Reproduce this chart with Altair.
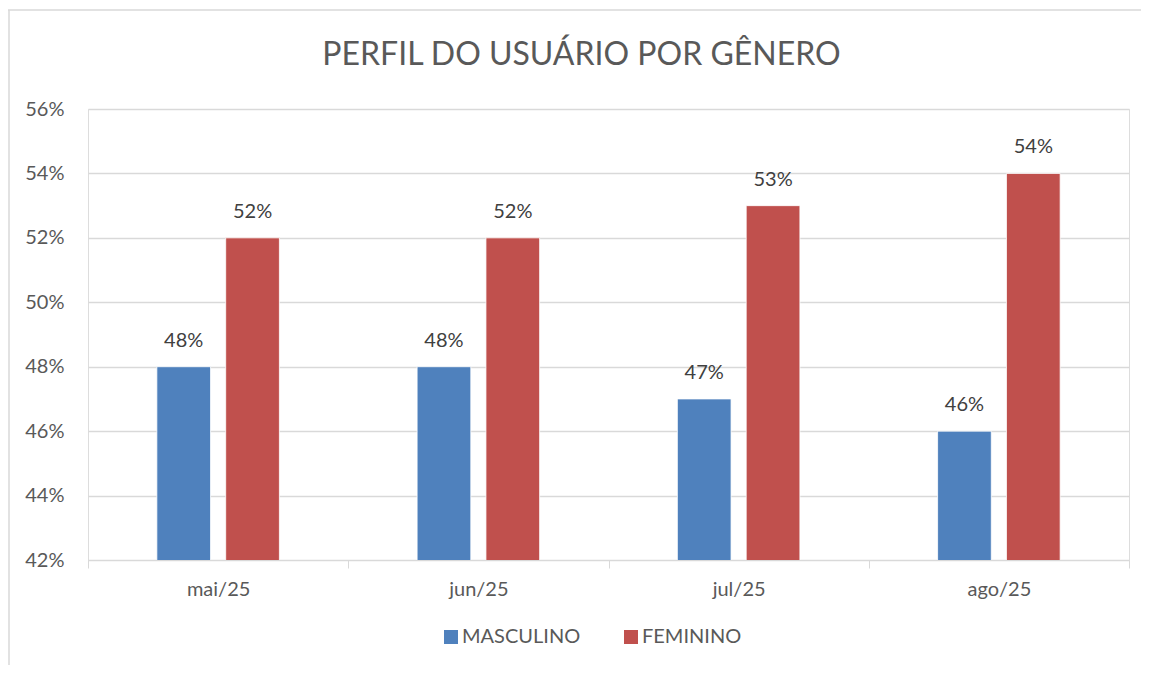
import altair as alt
import pandas as pd

meses = ["mai/25", "jun/25", "jul/25", "ago/25"]
masculino = [0.48, 0.48, 0.47, 0.46]
feminino = [0.52, 0.52, 0.53, 0.54]
series = ["MASCULINO", "FEMININO"]
cores = ["#4F81BD", "#C0504D"]
y_ticks = [0.42, 0.44, 0.46, 0.48, 0.50, 0.52, 0.54, 0.56]

rows = []
for i, m in enumerate(meses):
    rows.append({"mes": m, "genero": series[0], "valor": masculino[i]})
    rows.append({"mes": m, "genero": series[1], "valor": feminino[i]})
df = pd.DataFrame(rows)

FONT = "Lato"

x = alt.X("mes:N", sort=meses, title=None,
          scale=alt.Scale(paddingInner=0, paddingOuter=0),
          axis=alt.Axis(labelAngle=0, tickBand="extent", domainColor="#d9d9d9",
                        tickColor="#d9d9d9", tickSize=8, labelPadding=11,
                        labelFontSize=20, labelColor="#595959", labelFont=FONT, grid=False))
xo = alt.XOffset("genero:N", sort=series,
                 scale=alt.Scale(paddingInner=0.22, paddingOuter=1))
y = alt.Y("valor:Q", title=None,
          scale=alt.Scale(domain=[0.42, 0.56], nice=False, zero=False),
          axis=alt.Axis(values=y_ticks, format=".0%", domain=False, ticks=False,
                        gridColor="#d9d9d9", gridWidth=1.3, labelPadding=24,
                        labelFontSize=20, labelColor="#595959", labelFont=FONT))
color = alt.Color("genero:N", sort=series,
                  scale=alt.Scale(domain=series, range=cores),
                  legend=alt.Legend(title=None, orient="none", direction="horizontal",
                                    legendX=353, legendY=518, symbolType="square",
                                    symbolSize=196, symbolStrokeWidth=0, labelFontSize=20,
                                    labelColor="#595959", labelFont=FONT, labelOffset=1,
                                    columnPadding=40, padding=0))

base = alt.Chart(df)
bars = base.mark_bar(stroke="white", strokeWidth=0.8, clip=True).encode(
    x=x, xOffset=xo, y=y, color=color)
labels = base.mark_text(dy=-26, fontSize=20, color="#404040", font=FONT).encode(
    x=x, xOffset=xo, y=y, text=alt.Text("valor:Q", format=".0%"))

frame_top = alt.Chart(pd.DataFrame({"a": [0]})).mark_rule(color="#d9d9d9", strokeWidth=1.5).encode(
    x=alt.value(-80), x2=alt.value(1053), y=alt.value(-99))
frame_left = alt.Chart(pd.DataFrame({"a": [0]})).mark_rule(color="#d9d9d9", strokeWidth=1.5).encode(
    x=alt.value(-79), y=alt.value(-99), y2=alt.value(560))

chart = alt.layer(frame_top, frame_left, bars, labels).properties(
    width=1041, height=451,
    autosize=alt.AutoSizeParams(type="none"),
    padding={"left": 80, "top": 101, "right": 12, "bottom": 105},
    title=alt.TitleParams("PERFIL DO USUÁRIO POR GÊNERO", fontSize=32, font=FONT,
                          fontWeight="normal", color="#595959", anchor="middle",
                          dx=-27, offset=-63),
).configure_view(stroke=None).configure(background="white")

chart.save("out.html", embed_options={"renderer": "svg", "actions": False})
